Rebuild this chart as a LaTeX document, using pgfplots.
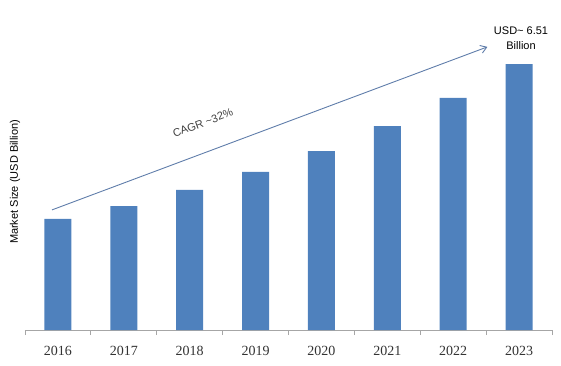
\documentclass[border=0pt]{standalone}
\usepackage{pgfplots}
\pgfplotsset{compat=1.18}
\usepackage{fontspec}
\setmainfont{Liberation Serif}
\newfontfamily\arial{Liberation Sans}
\usetikzlibrary{arrows.meta}
\definecolor{barblue}{RGB}{79,129,189}
\definecolor{arrowblue}{RGB}{95,125,170}
\begin{document}
\begin{tikzpicture}
\useasboundingbox (0,0) rectangle (561pt,365pt);
\begin{axis}[
  at={(25pt,35pt)}, anchor=south west,
  scale only axis, width=527pt, height=315pt,
  xmin=-0.5, xmax=7.5, ymin=0, ymax=7.71,
  axis lines*=left,
  y axis line style={draw=none},
  x axis line style={draw=gray!70, line width=0.8pt},
  ytick=\empty,
  xtick={0,...,7},
  xticklabels={2016,2017,2018,2019,2020,2021,2022,2023},
  minor xtick={-0.5,0.5,...,7.5},
  major tick length=0pt,
  minor tick length=5pt,
  tick align=outside,
  minor tick style={draw=gray!70, line width=0.8pt},
  xticklabel style={font=\fontsize{14}{16}\selectfont, text=black!80, yshift=-13pt},
  ylabel={\arial Market Size (USD Billion)},
  ylabel style={font=\fontsize{11}{13}\selectfont, at={(axis description cs:-0.019,0.47)}, anchor=center},
  clip=false,
]
\addplot[ybar, bar width=27pt, fill=barblue, draw=none]
  coordinates {(0,2.72) (1,3.03) (2,3.43) (3,3.87) (4,4.38) (5,4.99) (6,5.68) (7,6.51)};
\draw[arrowblue, line width=0.9pt, -{Straight Barb[length=6pt,width=8pt]}]
  (axis cs:-0.09,2.94) -- (axis cs:6.52,6.93);
\node[rotate=20.4, font=\arial\fontsize{11}{13}\selectfont, text=black!75] at (axis cs:2.2,5.07) {CAGR \textasciitilde 32\%};
\node[align=center, font=\arial\fontsize{11}{15}\selectfont] at (axis cs:7.03,7.15) {USD\textasciitilde\ 6.51\\Billion};
\end{axis}
\end{tikzpicture}
\end{document}
